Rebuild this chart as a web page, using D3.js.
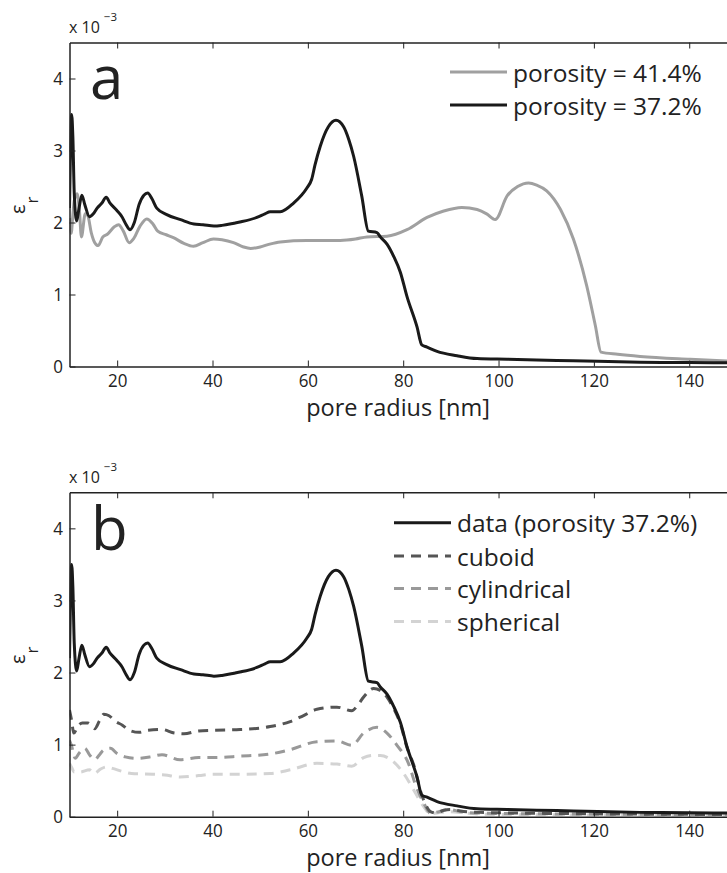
<!DOCTYPE html>
<html>
<head>
<meta charset="utf-8">
<script src="https://cdn.jsdelivr.net/npm/d3@7"></script>
<style>
  html, body { margin: 0; padding: 0; background: #fff; }
  svg { display: block; }
  text { font-family: "Open Sans", "Noto Sans", sans-serif; fill: #222; }
</style>
</head>
<body>
<svg id="chart" width="727" height="873"></svg>
<script>
// ---------------- data ----------------
const xTicks = [20, 40, 60, 80, 100, 120, 140];
const yTicks = [0, 1, 2, 3, 4];

// porosity = 37.2% (also "data" in panel b)
const r372 = [10, 10.2, 10.45, 10.7, 11.0, 11.5, 12.0, 12.6, 13.2, 14.2, 15.0, 15.8, 16.8, 17.7, 18.5, 19.9, 21.0, 21.8, 22.7, 23.6, 24.6, 25.6, 26.4, 27.3, 28.3, 30.4, 33.3, 36.1, 38.0, 40.3, 42.0, 44.5, 46.0, 49.3, 51.0, 52.1, 54.2, 57.0, 59.8, 60.8, 61.5, 62.6, 64.3, 65.9, 67.5, 68.6, 69.6, 71.3, 72.7, 74.5, 75.2, 76.6, 78.0, 79.4, 80.8, 82.9, 83.9, 85.0, 87.1, 91.3, 95.5, 101.8, 108, 115.7, 129.7, 140, 150];
const v372 = [2.2, 3.0, 3.5, 3.2, 2.4, 2.02, 2.2, 2.38, 2.25, 2.08, 2.12, 2.2, 2.27, 2.35, 2.27, 2.17, 2.08, 1.98, 1.90, 2.0, 2.25, 2.38, 2.41, 2.33, 2.2, 2.11, 2.04, 1.98, 1.97, 1.95, 1.96, 1.99, 2.01, 2.07, 2.12, 2.15, 2.15, 2.27, 2.48, 2.60, 2.80, 3.06, 3.33, 3.42, 3.33, 3.15, 2.92, 2.37, 1.88, 1.86, 1.80, 1.70, 1.53, 1.31, 0.97, 0.55, 0.30, 0.27, 0.21, 0.15, 0.11, 0.10, 0.09, 0.08, 0.06, 0.055, 0.05];

// porosity = 41.4%
const r414 = [10, 10.35, 10.7, 11.0, 11.6, 12.1, 12.5, 13.3, 13.8, 14.6, 15.3, 16.0, 17.0, 18.0, 19.4, 20.3, 21.3, 22.5, 23.5, 24.8, 26.2, 27.5, 28.5, 30.3, 31.8, 34.0, 36.0, 38.0, 40.2, 42.0, 44.4, 46.5, 48.0, 50.0, 52.0, 54.2, 59.8, 66.8, 70.0, 72.4, 76.6, 80.8, 85.0, 88.5, 92.3, 95.5, 97.5, 99.3, 101.8, 104, 106.3, 108, 110.1, 113, 115.7, 118.5, 120.3, 121.5, 125, 129.7, 140.2, 150];
const v414 = [2.06, 1.85, 2.1, 2.3, 2.40, 2.15, 1.80, 2.12, 2.1, 1.85, 1.72, 1.68, 1.80, 1.84, 1.94, 1.97, 1.88, 1.72, 1.78, 1.95, 2.05, 1.98, 1.88, 1.83, 1.79, 1.71, 1.67, 1.72, 1.77, 1.76, 1.72, 1.66, 1.64, 1.66, 1.70, 1.73, 1.75, 1.75, 1.77, 1.80, 1.81, 1.90, 2.07, 2.16, 2.21, 2.18, 2.12, 2.04, 2.37, 2.50, 2.55, 2.52, 2.44, 2.18, 1.77, 1.12, 0.57, 0.20, 0.17, 0.14, 0.10, 0.07];

// models (panel b)
const rCub = [10, 10.4, 10.9, 11.8, 12.7, 13.9, 15.3, 16.3, 17.2, 18.3, 19.7, 21.1, 22.5, 24.6, 26.5, 29.4, 32, 34.0, 37.1, 40.2, 45.8, 52.1, 56.3, 59, 61.9, 66.1, 69.2, 70.5, 71.7, 73.8, 75.2, 76.6, 78, 79.4, 80.8, 82.2, 83.9, 85.0, 85.7, 87, 88.5, 90, 92, 96, 105, 120, 150];
const vCub = [1.48, 1.35, 1.16, 1.26, 1.30, 1.30, 1.22, 1.33, 1.42, 1.40, 1.32, 1.27, 1.20, 1.17, 1.20, 1.21, 1.16, 1.15, 1.19, 1.20, 1.21, 1.25, 1.32, 1.40, 1.49, 1.52, 1.47, 1.55, 1.66, 1.78, 1.75, 1.66, 1.50, 1.29, 0.96, 0.72, 0.30, 0.13, 0.07, 0.05, 0.09, 0.10, 0.08, 0.06, 0.05, 0.04, 0.03];

const rCyl = [10, 10.4, 11.2, 12.0, 13.2, 14.3, 15.3, 16.3, 17.1, 18.6, 19.9, 21.7, 24.1, 27, 29.4, 33.2, 37.1, 40.2, 45.8, 52.1, 56.3, 61.9, 66.1, 69.2, 71.7, 74.5, 76.6, 78.7, 81.1, 82.5, 84.3, 85.7, 87.5, 89.5, 92, 96, 110, 150];
const vCyl = [1.06, 0.99, 0.81, 0.88, 0.95, 0.85, 0.79, 0.86, 0.92, 0.95, 0.88, 0.83, 0.81, 0.83, 0.86, 0.79, 0.82, 0.82, 0.84, 0.87, 0.93, 1.04, 1.05, 0.99, 1.16, 1.24, 1.16, 0.99, 0.74, 0.46, 0.19, 0.05, 0.07, 0.10, 0.07, 0.05, 0.04, 0.03];

const rSph = [10, 10.4, 11, 12.2, 14.2, 15.2, 16.5, 17.7, 19, 21, 23, 27.5, 30, 33.2, 37.1, 40.2, 45.8, 52.1, 56.3, 61.9, 66.1, 69.2, 71.7, 73.8, 75.2, 78, 80.1, 82.2, 84.3, 85.7, 88, 90, 93, 100, 150];
const vSph = [0.74, 0.69, 0.62, 0.62, 0.65, 0.60, 0.66, 0.69, 0.67, 0.63, 0.60, 0.59, 0.58, 0.55, 0.57, 0.59, 0.59, 0.60, 0.65, 0.74, 0.73, 0.70, 0.82, 0.85, 0.85, 0.76, 0.60, 0.37, 0.14, 0.04, 0.06, 0.07, 0.05, 0.03, 0.02];

const legendA = ["porosity = 41.4%", "porosity = 37.2%"];
const legendB = ["data (porosity 37.2%)", "cuboid", "cylindrical", "spherical"];

// ---------------- drawing ----------------
const svg = d3.select("#chart");
const zip = (xs, ys) => xs.map((x, i) => [x, ys[i]]);

const x = d3.scaleLinear().domain([10, 150]).range([69.5, 736.9]);

function panel(cfg) {
  const y = d3.scaleLinear().domain([0, 4.5]).range([cfg.bottom, cfg.top]);
  const g = svg.append("g");
  const clipId = "clip" + cfg.letter;
  svg.append("clipPath").attr("id", clipId)
    .append("rect").attr("x", 69.5).attr("y", cfg.top).attr("width", 700).attr("height", cfg.bottom - cfg.top);

  const line = d3.line().x(d => x(d[0])).y(d => y(d[1])).curve(d3.curveMonotoneX);
  const lg = g.append("g").attr("clip-path", `url(#${clipId})`);
  cfg.series.forEach(s => {
    lg.append("path").attr("d", line(zip(s.r, s.v)))
      .attr("fill", "none").attr("stroke", s.color).attr("stroke-width", 3)
      .attr("stroke-linejoin", "round")
      .attr("stroke-dasharray", s.dash || null);
  });

  // axes
  const axB = g.append("g").attr("transform", `translate(0,${cfg.bottom})`)
    .call(d3.axisBottom(x).tickValues(xTicks).tickSizeInner(-6).tickSizeOuter(0).tickPadding(7.5));
  const axT = g.append("g").attr("transform", `translate(0,${cfg.top})`)
    .call(d3.axisTop(x).tickValues(xTicks).tickSizeInner(-6).tickSizeOuter(0).tickFormat(""));
  const axL = g.append("g").attr("transform", `translate(69.5,0)`)
    .call(d3.axisLeft(y).tickValues(yTicks).tickFormat(d3.format("d")).tickSizeInner(-6).tickSizeOuter(0).tickPadding(7));
  [axB, axT, axL].forEach(a => {
    a.select(".domain").attr("stroke", "#222").attr("stroke-width", 1.5);
    a.selectAll(".tick line").attr("stroke", "#222").attr("stroke-width", 1);
    a.selectAll("text").attr("font-family", "Open Sans").attr("font-size", 18.5).attr("fill", "#222");
  });
  axB.selectAll(".tick text").attr("transform", "scale(0.92,1)");
  axL.selectAll(".tick text").attr("transform", "scale(0.92,1)");

  // exponent
  const ex = g.append("text").attr("x", 69).attr("y", cfg.top - 9.5).attr("font-size", 16);
  ex.append("tspan").text("x 10");
  ex.append("tspan").attr("dx", 4).attr("dy", -12).attr("font-size", 11.5).text("\u22123");

  // y label (epsilon with lowered subscript r)
  const yl = g.append("text").attr("transform", `translate(25,${cfg.ylabY}) rotate(-90)`)
    .attr("font-family", "Liberation Sans");
  yl.append("tspan").attr("font-size", 20).text("\u03b5");
  yl.append("tspan").attr("font-size", 17).attr("dx", 1).attr("dy", 13).text("r");

  // x label
  g.append("text").attr("x", 398).attr("y", cfg.bottom + 49.3).attr("text-anchor", "middle")
    .attr("font-size", 23.5).text("pore radius [nm]");

  // panel letter
  g.append("text").attr("x", cfg.letterX).attr("y", cfg.letterY).attr("font-size", 60).text(cfg.letter);

  // legend
  cfg.legend.forEach((it, i) => {
    const ly = cfg.legY[i];
    g.append("line").attr("x1", cfg.legX1).attr("x2", cfg.legX2).attr("y1", ly).attr("y2", ly)
      .attr("stroke", it.color).attr("stroke-width", 3).attr("stroke-dasharray", it.dash || null);
    g.append("text").attr("x", cfg.legX2 + 6).attr("y", ly + 9.5).attr("font-size", 24.5).text(it.label);
  });
}

const cBlack = "#1a1a1a", cGray = "#a0a0a0";
const cCub = "#555555", cCyl = "#999999", cSph = "#d3d3d3";
const dash = "10,7";

panel({
  letter: "a", top: 42.5, bottom: 366.5, ylabY: 214, letterX: 90, letterY: 99,
  series: [
    { r: r414, v: v414, color: cGray },
    { r: r372, v: v372, color: cBlack }
  ],
  legend: [
    { label: legendA[0], color: cGray },
    { label: legendA[1], color: cBlack }
  ],
  legX1: 450, legX2: 507, legY: [72, 105]
});

panel({
  letter: "b", top: 492.3, bottom: 816.7, ylabY: 664, letterX: 91, letterY: 550,
  series: [
    { r: rSph, v: vSph, color: cSph, dash: dash },
    { r: rCyl, v: vCyl, color: cCyl, dash: dash },
    { r: rCub, v: vCub, color: cCub, dash: dash },
    { r: r372, v: v372, color: cBlack }
  ],
  legend: [
    { label: legendB[0], color: cBlack },
    { label: legendB[1], color: cCub, dash: dash },
    { label: legendB[2], color: cCyl, dash: dash },
    { label: legendB[3], color: cSph, dash: dash }
  ],
  legX1: 394, legX2: 451, legY: [522.7, 556, 588.5, 621.5]
});
</script>
</body>
</html>
